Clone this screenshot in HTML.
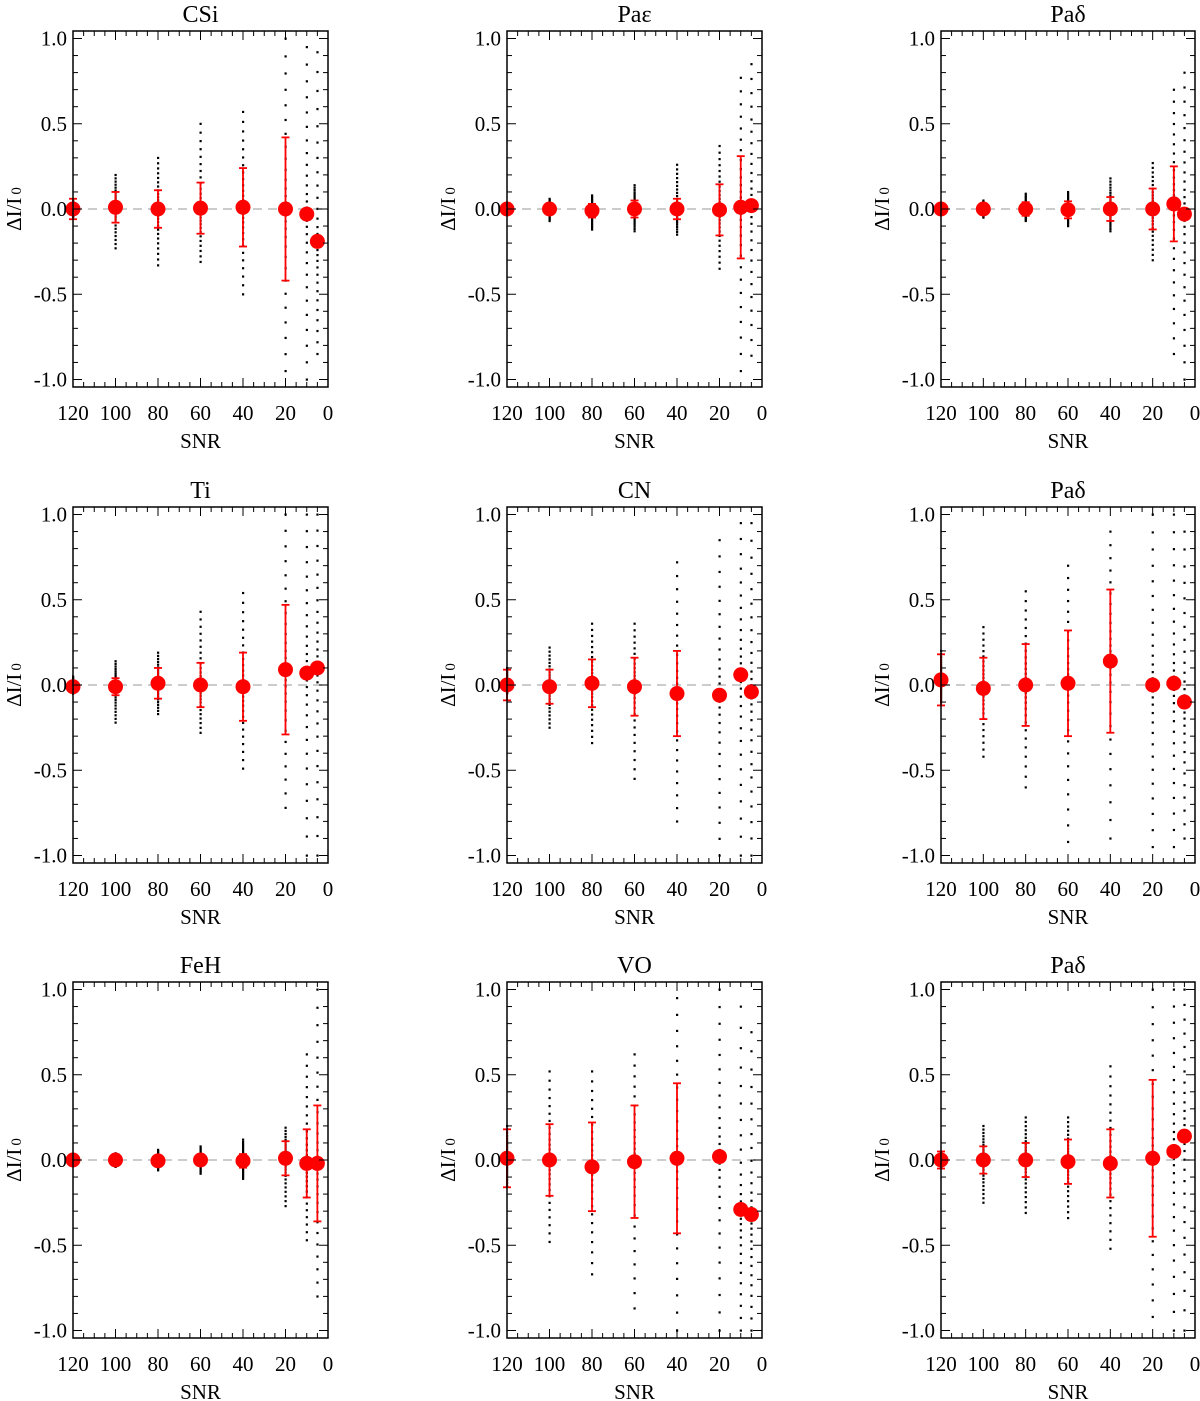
<!DOCTYPE html>
<html><head><meta charset="utf-8">
<style>
body{margin:0;background:#fff;}
svg{display:block;font-family:"Liberation Serif","DejaVu Serif",serif;}
</style></head>
<body>
<svg id="fig" width="1200" height="1401" viewBox="0 0 1200 1401" xmlns="http://www.w3.org/2000/svg"></svg>
<script>
const snr = [120,100,80,60,40,20,10,5];
const titles = ["CSi","Paε","Paδ","Ti","CN","Paδ","FeH","VO","Paδ"];
const means = [
 [0,0.01,0,0.005,0.01,0,-0.03,-0.19],
 [0,0,-0.01,0,0,-0.005,0.01,0.02],
 [0,0,0,-0.005,0,0,0.03,-0.03],
 [-0.01,-0.01,0.01,0,-0.01,0.09,0.07,0.1],
 [0,-0.01,0.01,-0.01,-0.05,-0.06,0.06,-0.04],
 [0.03,-0.02,0,0.01,0.14,0,0.01,-0.1],
 [0,0,-0.005,0,-0.005,0.01,-0.02,-0.02],
 [0.01,0,-0.04,-0.01,0.01,0.02,-0.29,-0.32],
 [0,0,0,-0.01,-0.02,0.01,0.05,0.14]
];
const errs = [
 [0.06,0.09,0.11,0.15,0.23,0.42,null,null],
 [0.02,0.03,0.04,0.05,0.06,0.15,0.3,null],
 [0.02,0.03,0.04,0.05,0.07,0.12,0.22,null],
 [0.03,0.05,0.09,0.13,0.2,0.38,null,null],
 [0.09,0.1,0.14,0.17,0.25,null,null,null],
 [0.15,0.18,0.24,0.31,0.42,null,null,null],
 [0.01,0.02,0.03,0.03,0.04,0.1,0.2,0.34],
 [0.17,0.21,0.26,0.33,0.44,null,null,null],
 [0.05,0.08,0.1,0.13,0.2,0.46,null,null]
];
const dotMin = [
 [-0.05,-0.23,-0.33,-0.31,-0.5,-0.95,-1,-0.85],
 [-0.02,-0.07,-0.12,-0.13,-0.15,-0.35,-0.95,-0.86],
 [-0.02,-0.05,-0.07,-0.1,-0.13,-0.3,-0.85,-1],
 [-0.05,-0.22,-0.17,-0.28,-0.49,-0.72,-1,-1],
 [-0.05,-0.25,-0.34,-0.55,-0.8,-1,-1,-1],
 [-0.1,-0.42,-0.6,-0.92,-0.9,-0.95,-0.95,-0.9],
 [-0.01,-0.04,-0.06,-0.08,-0.11,-0.27,-0.47,-0.8],
 [-0.15,-0.48,-0.67,-0.87,-1,-1,-1,-1],
 [-0.05,-0.25,-0.31,-0.34,-0.52,-0.92,-1,-1]
];
const dotMax = [
 [0.05,0.2,0.3,0.5,0.57,1,0.95,0.92],
 [0.02,0.06,0.08,0.14,0.26,0.37,0.77,0.85],
 [0.02,0.05,0.09,0.1,0.18,0.27,0.7,0.8],
 [0.05,0.14,0.19,0.43,0.54,1,1,1],
 [0.1,0.22,0.36,0.36,0.72,0.85,0.95,0.95],
 [0.2,0.34,0.55,0.7,0.9,1,1,0.9],
 [0.01,0.04,0.06,0.08,0.12,0.19,0.62,1],
 [0.2,0.52,0.52,0.62,0.95,1,0.9,0.75],
 [0.05,0.2,0.25,0.25,0.55,1,1,1]
];
const xTickLabels = ["120","100","80","60","40","20","0"];
const yTickLabels = ["1.0","0.5","0.0","-0.5","-1.0"];

const NS="http://www.w3.org/2000/svg";
const svg=document.getElementById('fig');
function mk(tag,attrs,parent){const e=document.createElementNS(NS,tag);for(const k in attrs)e.setAttribute(k,attrs[k]);(parent||svg).appendChild(e);return e;}
const colL=[73,507,941], colR=[328,762,1195], rowT=[31,507,982];
const H=356;
for(let p=0;p<9;p++){
  const r=Math.floor(p/3),c=p%3;
  const L=colL[c],R=colR[c],T=rowT[r],B=T+H;
  const xs=v=>L+(120-v)/120*(R-L);
  const y0=T+178, ys=v=>y0-v*170.5;
  const g=mk('g',{});
  
  
  const t=mk('text',{x:(L+R)/2,y:T-9,'text-anchor':'middle','font-size':24},g);
  t.textContent=titles[p];
  
  
  const z=mk('line',{x1:L,x2:R,y1:ys(0),y2:ys(0),stroke:'#bbb','stroke-width':1.5,'stroke-dasharray':'9,6'},g);
  
  
  for(let i=0;i<snr.length;i++){
    const lo=dotMin[p][i],hi=dotMax[p][i],m=means[p][i];
    const n=30;
    for(let k=0;k<=n;k++){
      let f=k/n*2-1; f=Math.sign(f)*Math.pow(Math.abs(f),1.6);
      const vv=f<0? m+(-f)*(lo-m) : m+f*(hi-m);
      if(vv<-1.04||vv>1.04)continue;
      const d=mk('rect',{x:xs(snr[i])-1,y:ys(vv)-1,width:2.2,height:2.2,fill:'#000'},g);
      
      
    }
  }
  for(let i=0;i<snr.length;i++){
    const x=xs(snr[i]),m=means[p][i],e=errs[p][i];
    if(e!==null){
      const eb=mk('g',{stroke:'#f00','stroke-width':1.8},g);
      
      
      mk('line',{x1:x,x2:x,y1:ys(m+e),y2:ys(m-e)},eb);
      mk('line',{x1:x-4,x2:x+4,y1:ys(m+e),y2:ys(m+e)},eb);
      mk('line',{x1:x-4,x2:x+4,y1:ys(m-e),y2:ys(m-e)},eb);
    }
    const ci=mk('circle',{cx:x,cy:ys(m),r:7.5,fill:'#f00'},g);
    
    
  }
  const fr=mk('rect',{x:L,y:T,width:R-L,height:H,fill:'none',stroke:'#000','stroke-width':1.5},g);
  
  
  for(let v=0;v<=120;v+=5){
    const major=v%20===0,len=major?9:5,x=xs(v);
    mk('line',{x1:x,x2:x,y1:B,y2:B-len,stroke:'#000','stroke-width':1},g);
    mk('line',{x1:x,x2:x,y1:T,y2:T+len,stroke:'#000','stroke-width':1},g);
  }
  xTickLabels.forEach((lab)=>{
    const tl=mk('text',{x:xs(+lab),y:B+33,'text-anchor':'middle','font-size':21},g);
    tl.textContent=lab;
    
    
  });
  for(let k=-10;k<=10;k++){
    const v=k/10,major=k%5===0,len=major?9:5,y=ys(v);
    mk('line',{x1:L,x2:L+len,y1:y,y2:y,stroke:'#000','stroke-width':1},g);
    mk('line',{x1:R,x2:R-len,y1:y,y2:y,stroke:'#000','stroke-width':1},g);
  }
  yTickLabels.forEach((lab)=>{
    const tl=mk('text',{x:L-6,y:ys(+lab)+7,'text-anchor':'end','font-size':21},g);
    tl.textContent=lab;
    
    
  });
  const xl=mk('text',{x:(L+R)/2,y:B+61,'text-anchor':'middle','font-size':21},g);
  xl.textContent='SNR';
  
  
  const yl=mk('text',{x:0,y:0,'text-anchor':'middle','font-size':21,transform:`translate(${L-52},${y0}) rotate(-90)`},g);
  
  
  const s1=mk('tspan',{},yl);s1.textContent='ΔI/I';
  const s2=mk('tspan',{'font-size':15,dx:3},yl);s2.textContent='0';
}
</script>
</body></html>
